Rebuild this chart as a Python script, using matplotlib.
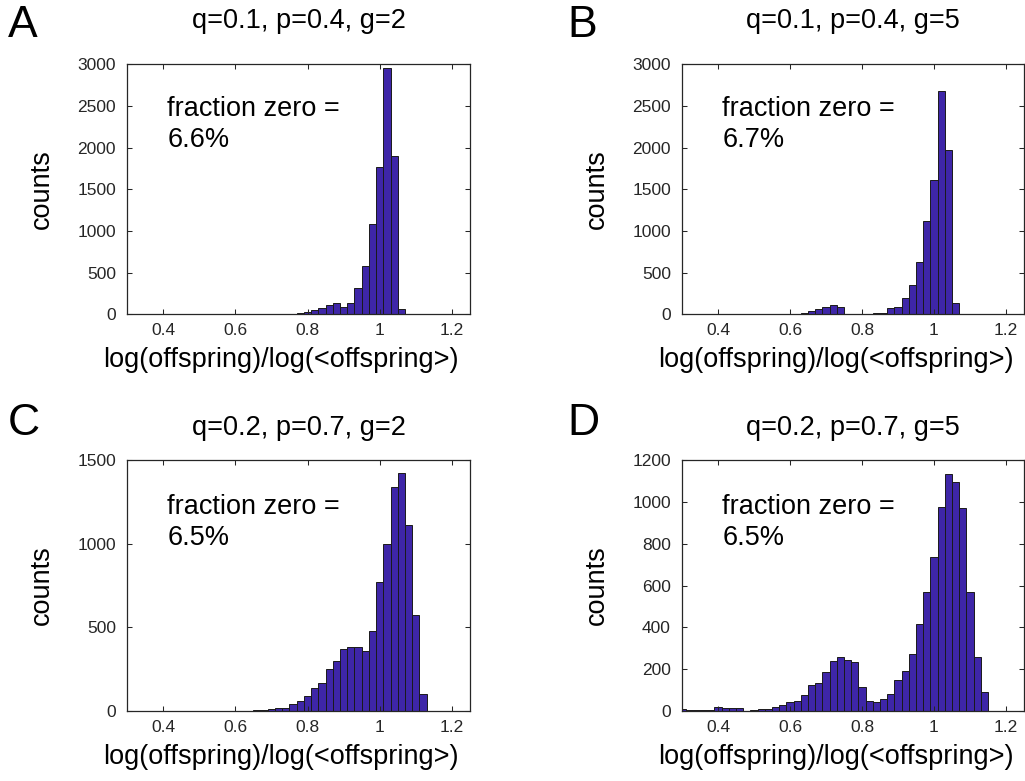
import numpy as np
import matplotlib.pyplot as plt

plt.rcParams['font.family'] = ['Liberation Sans', 'DejaVu Sans']

# histogram bins: width 0.02, first bin centred at 0.30
bin_width = 0.02
first_bin = 0.30

titles = ['q=0.1, p=0.4, g=2', 'q=0.1, p=0.4, g=5',
          'q=0.2, p=0.7, g=2', 'q=0.2, p=0.7, g=5']
letters = ['A', 'B', 'C', 'D']
frac_zero = ['6.6%', '6.7%', '6.5%', '6.5%']

counts_a = [0, 0, 0, 1, 0, 1, 0, 1, 0, 1, 1, 0, 1, 1, 1, 1, 1, 2, 1, 2,
            2, 3, 5, 8, 16, 30, 50, 76, 110, 140, 90, 140, 310, 580, 1080,
            1765, 2950, 1900, 60]
counts_b = [0, 0, 0, 0, 0, 1, 0, 1, 1, 1, 1, 1, 1, 1, 1, 4, 8, 20, 36, 60,
            84, 108, 92, 2, 1, 1, 4, 12, 20, 72, 84, 192, 348, 628, 1124,
            1612, 2680, 1970, 130]
counts_c = [0, 0, 0, 0, 0, 0, 0, 0, 0, 0, 1, 0, 1, 1, 1, 2, 2, 2, 4, 8,
            10, 18, 20, 42, 60, 92, 136, 168, 250, 300, 370, 382, 380, 356,
            480, 770, 1000, 1336, 1420, 1110, 576, 100]
counts_d = [11, 5, 5, 5, 3, 19, 14, 13, 13, 2, 3, 8, 11, 21, 30, 42, 50,
            76, 123, 134, 185, 241, 260, 245, 234, 113, 46, 43, 57, 81, 147,
            191, 273, 414, 571, 738, 975, 1132, 1094, 969, 570, 260, 90]
all_counts = [counts_a, counts_b, counts_c, counts_d]

yticks = [np.arange(0, 3001, 500), np.arange(0, 3001, 500),
          np.arange(0, 1501, 500), np.arange(0, 1201, 200)]
ylims = [3000, 3000, 1500, 1200]
xticks = [0.4, 0.6, 0.8, 1.0, 1.2]
xticklabels = ['0.4', '0.6', '0.8', '1', '1.2']

bar_color = '#3e26a8'
axis_color = '#262626'

W, H = 1025, 781
fig = plt.figure(figsize=(W / 100, H / 100), dpi=100)

# axes boxes in pixels: left, top, right, bottom
boxes = [(127, 64.3, 470, 314.3), (682, 64.3, 1024, 314.3),
         (127, 460, 470, 711), (682, 460, 1024, 711)]

for i in range(4):
    l, t, r, b = boxes[i]
    ax = fig.add_axes([l / W, 1 - b / H, (r - l) / W, (b - t) / H])
    counts = all_counts[i]
    centers = first_bin + bin_width * np.arange(len(counts))
    ax.bar(centers, counts, width=bin_width, color=bar_color,
           edgecolor='#1a1a1a', linewidth=0.7)
    ax.set_xlim(0.3, 1.25)
    ax.set_ylim(0, ylims[i])
    ax.set_xticks(xticks)
    ax.set_xticklabels(xticklabels)
    ax.set_yticks(yticks[i])
    ax.tick_params(direction='in', length=3.5, width=0.75, top=True,
                   right=True, labelsize=12.5, colors=axis_color)
    ax.tick_params(axis='y', pad=8)
    ax.tick_params(axis='x', pad=6.5)
    for s in ax.spines.values():
        s.set_linewidth(0.9)
        s.set_color(axis_color)

    ax.set_xlabel('log(offspring)/log(<offspring>)', fontsize=19.5)
    ax.xaxis.set_label_coords(0.45, -0.21)
    ax.xaxis.label.set_va('baseline')
    ax.set_ylabel('counts', fontsize=19.5)
    ax.yaxis.set_label_coords(-0.21, 0.5)

    tx = 0.118
    y1, y2 = (0.794, 0.670) if i < 2 else (0.784, 0.661)
    ax.text(tx, y1, 'fraction zero =', transform=ax.transAxes,
            fontsize=19.5, va='baseline')
    ax.text(tx, y2, frac_zero[i], transform=ax.transAxes,
            fontsize=19.5, va='baseline')

    # title and panel letter
    base = 28.3 if i < 2 else 435
    fig.text((l + r) / 2 / W, 1 - base / H, titles[i], fontsize=19.5,
             ha='center', va='baseline')
    lx = 8 if i % 2 == 0 else 567
    lbase = 36.7 if i < 2 else 435
    fig.text(lx / W, 1 - lbase / H, letters[i], fontsize=32,
             ha='left', va='baseline')

fig.savefig('out.png', dpi=100)
